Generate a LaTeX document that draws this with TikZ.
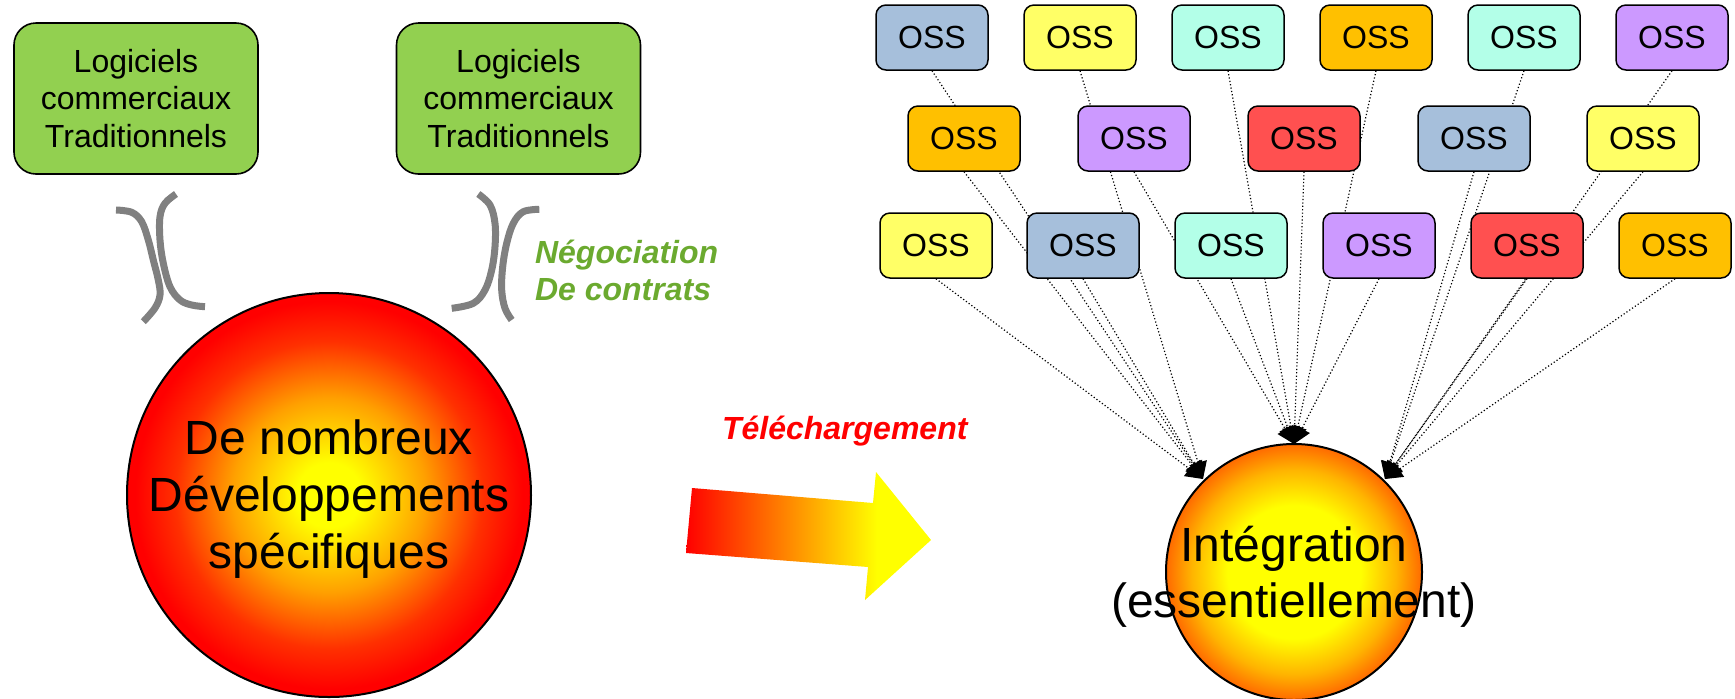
\documentclass[tikz,border=0pt]{standalone}
\usepackage{fontspec}
\setmainfont{Liberation Sans}
\usetikzlibrary{arrows.meta,backgrounds}
\definecolor{ossblue}{HTML}{A6BFDB}
\definecolor{ossyellow}{HTML}{FFFF66}
\definecolor{ossaqua}{HTML}{B3FFE8}
\definecolor{ossorange}{HTML}{FFC000}
\definecolor{osspurple}{HTML}{CC99FF}
\definecolor{ossred}{HTML}{FF5050}
\definecolor{boxgreen}{HTML}{92D050}
\definecolor{txtgreen}{HTML}{6BAA2F}
\definecolor{bracketgray}{HTML}{808080}
\definecolor{sunorange}{HTML}{FFA000}
\definecolor{sunredorange}{HTML}{FF3000}
\definecolor{intorange}{HTML}{FF6A00}
\definecolor{intmid}{HTML}{FFB400}
\pgfdeclareradialshading{sunleft}{\pgfpoint{0bp}{0bp}}{color(0bp)=(yellow); color(4bp)=(yellow); color(12bp)=(sunorange); color(19bp)=(sunredorange); color(24bp)=(red); color(50bp)=(red)}
\pgfdeclareradialshading{sunright}{\pgfpoint{0bp}{0bp}}{color(0bp)=(yellow); color(13bp)=(yellow); color(20bp)=(intmid); color(25bp)=(intorange); color(50bp)=(intorange)}
\pgfdeclarehorizontalshading{arrowgrad}{100bp}{color(0bp)=(red); color(25bp)=(red); color(64bp)=(yellow); color(100bp)=(yellow)}
\tikzset{
  oss/.style={draw=black, line width=0.75pt, rounded corners=5pt, minimum width=56pt, minimum height=32.5pt, inner sep=0pt, font=\fontsize{16}{19}\selectfont},
  logi/.style={draw=black, line width=0.8pt, fill=boxgreen, rounded corners=11pt, minimum width=122pt, minimum height=75.5pt, align=center, inner sep=0pt, font=\fontsize{16}{18.75}\selectfont},
  link/.style={black, line width=0.6pt, dash pattern=on 0.6pt off 1.1pt, -{Triangle[length=8.5pt,width=9pt]}},
  bracket/.style={draw=bracketgray, line width=3.5pt},
  sun/.style={circle, draw=black, line width=1pt, inner sep=0pt},
  bigtext/.style={align=center, font=\fontsize{24}{28.5}\selectfont},
  note/.style={anchor=base west, font=\fontsize{16}{19}\selectfont\bfseries\itshape}
}
\begin{document}
\begin{tikzpicture}[x=0.5pt, y=-0.5pt]
\useasboundingbox (0,0) rectangle (1735,698);

% green boxes
\node[logi] (g1) at (136,98.5) {Logiciels\\commerciaux\\Traditionnels};
\node[logi] (g2) at (518.5,98.5) {Logiciels\\commerciaux\\Traditionnels};

% brackets
\draw[bracket] plot[smooth, tension=0.6] coordinates {(116,210) (131.7,212.3) (141.7,221.7) (148.3,240) (153.3,260) (158.3,280) (160,295) (155,308) (143.3,321.7)};
\draw[bracket] plot[smooth, tension=0.6] coordinates {(176,194) (165,203.3) (160,216.7) (160,240) (163.3,263.3) (170,286.7) (180,300) (191.7,305) (205,306.7)};
\draw[bracket] plot[smooth, tension=0.6] coordinates {(478.3,194) (490,205) (495,223.3) (495,246.7) (491.7,270) (485,290) (473.3,303.3) (451.7,308.3)};
\draw[bracket] plot[smooth, tension=0.6] coordinates {(539.3,209.3) (523.3,211.7) (513.3,223.3) (506.7,243.3) (502.7,266.7) (501.7,290) (505,308.3) (511.7,320)};

\node[note, text=txtgreen] (nego1) at (528,263) {Négociation};
\node[note, text=txtgreen] (nego2) at (528,300) {De contrats};

% left circle
\node[sun, minimum size=202pt, shading=sunleft] (dev) at (329,495) {};
\node[bigtext] (devtext) at ([yshift=-2pt]dev.center) {De nombreux\\Développements\\spécifiques};

% block arrow
\shade[shading=arrowgrad, shading angle=0] (692,488) -- (873,503) -- (876,472) -- (931,540) -- (865,600) -- (868,567) -- (686,553) -- cycle;
\node[note, text=red] (tele) at (715,439) {Téléchargement};

% integration circle
\node[sun, minimum size=128pt, shading=sunright] (integ) at (1294,572) {};
\node[bigtext, font=\fontsize{24}{28}\selectfont] (integtext) at ([yshift=-2.5pt]integ.center) {Intégration\\(essentiellement)};
\coordinate (aL) at (1203,479);
\coordinate (aT) at (1294,444);
\coordinate (aR) at (1385,479);

% OSS boxes
\node[oss, fill=ossblue]   (t1) at (932,37.5) {OSS};
\node[oss, fill=ossyellow] (t2) at (1080,37.5) {OSS};
\node[oss, fill=ossaqua]   (t3) at (1228,37.5) {OSS};
\node[oss, fill=ossorange] (t4) at (1376,37.5) {OSS};
\node[oss, fill=ossaqua]   (t5) at (1524,37.5) {OSS};
\node[oss, fill=osspurple] (t6) at (1672,37.5) {OSS};
\node[oss, fill=ossorange] (m1) at (964,138.5) {OSS};
\node[oss, fill=osspurple] (m2) at (1134,138.5) {OSS};
\node[oss, fill=ossred]    (m3) at (1304,138.5) {OSS};
\node[oss, fill=ossblue]   (m4) at (1474,138.5) {OSS};
\node[oss, fill=ossyellow] (m5) at (1643,138.5) {OSS};
\node[oss, fill=ossyellow] (b1) at (936,245.5) {OSS};
\node[oss, fill=ossblue]   (b2) at (1083,245.5) {OSS};
\node[oss, fill=ossaqua]   (b3) at (1231,245.5) {OSS};
\node[oss, fill=osspurple] (b4) at (1379,245.5) {OSS};
\node[oss, fill=ossred]    (b5) at (1527,245.5) {OSS};
\node[oss, fill=ossorange] (b6) at (1675,245.5) {OSS};

\begin{scope}[on background layer]
\foreach \n in {t1,t2,m1,b1,b2} \draw[link] (\n.south) -- (aL);
\foreach \n in {t3,t4,m2,m3,b3,b4} \draw[link] (\n.south) -- (aT);
\foreach \n in {t5,t6,m4,m5,b5,b6} \draw[link] (\n.south) -- (aR);
\end{scope}
\end{tikzpicture}
\end{document}
